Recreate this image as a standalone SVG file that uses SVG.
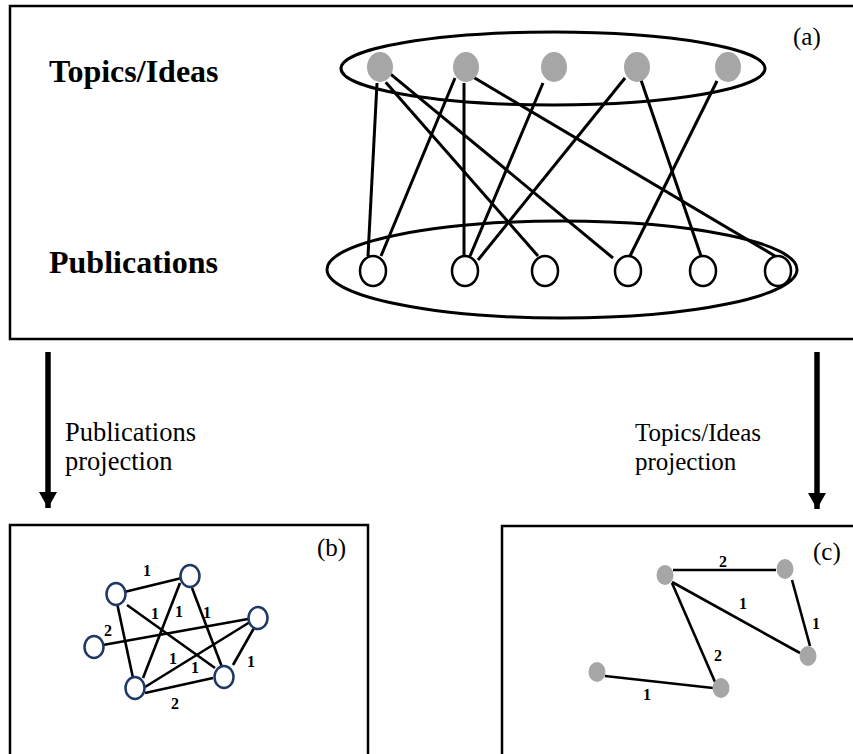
<svg xmlns="http://www.w3.org/2000/svg" width="853" height="754" viewBox="0 0 853 754">
<style>
.box{fill:none;stroke:#000;stroke-width:2.5}
.ell{fill:none;stroke:#000;stroke-width:3}
.e{stroke:#000;stroke-width:3;fill:none}
.eb{stroke:#000;stroke-width:2.6;fill:none}
.topic{fill:#a6a6a6;stroke:none}
.pub{fill:#fff;stroke:#000;stroke-width:2.5}
.pb{fill:#fff;stroke:#1f3864;stroke-width:2.5}
.big{font-family:"Liberation Serif","Times New Roman",serif;font-weight:bold;font-size:32px;fill:#000}
.lab{font-family:"Liberation Serif","Times New Roman",serif;font-size:25px;fill:#000}
.lab2{font-family:"Liberation Serif","Times New Roman",serif;font-size:26.5px;fill:#000}
.num{font-family:"Liberation Serif","Times New Roman",serif;font-weight:bold;font-size:16px;fill:#000;text-anchor:middle}
.arr{stroke:#000;stroke-width:5.5;fill:none}
</style>
<defs>
<marker id="ah" markerWidth="18" markerHeight="16" refX="9" refY="16" orient="0" markerUnits="userSpaceOnUse">
<path d="M0,0 L18,0 L9,16 Z" fill="#000"/>
</marker>
</defs>
<g id="panel-a">
<rect class="box" x="10" y="6" width="900" height="333"/>
<text class="big" x="49" y="82">Topics/Ideas</text>
<text class="big" x="49" y="273">Publications</text>
<text class="lab" x="793" y="45">(a)</text>
<ellipse class="ell" cx="553" cy="68.5" rx="212" ry="36.5"/>
<ellipse class="ell" cx="562" cy="269.5" rx="235" ry="48.5"/>
</g>
<g id="edges-a">
<line class="e" x1="377" y1="83" x2="368" y2="256"/>
<line class="e" x1="389.7" y1="73.3" x2="613" y2="258"/>
<line class="e" x1="385.7" y1="82.3" x2="538" y2="256"/>
<line class="e" x1="455" y1="78" x2="381" y2="256"/>
<line class="e" x1="464" y1="83" x2="464" y2="255"/>
<line class="e" x1="473" y1="77" x2="775" y2="256"/>
<line class="e" x1="543" y1="83" x2="470" y2="256"/>
<line class="e" x1="625" y1="78" x2="478" y2="260"/>
<line class="e" x1="641" y1="80" x2="701" y2="256"/>
<line class="e" x1="717" y1="81" x2="630" y2="256"/>
</g>
<g id="topic-1"><ellipse class="topic" cx="380" cy="67" rx="13" ry="15"/></g>
<g id="topic-2"><ellipse class="topic" cx="466" cy="67" rx="13" ry="15"/></g>
<g id="topic-3"><ellipse class="topic" cx="554" cy="67" rx="13" ry="15"/></g>
<g id="topic-4"><ellipse class="topic" cx="637" cy="67" rx="13" ry="15"/></g>
<g id="topic-5"><ellipse class="topic" cx="728" cy="67" rx="13" ry="15"/></g>
<g id="pub-1"><ellipse class="pub" cx="373" cy="271" rx="13" ry="15"/></g>
<g id="pub-2"><ellipse class="pub" cx="465" cy="271" rx="13" ry="15"/></g>
<g id="pub-3"><ellipse class="pub" cx="545" cy="271" rx="13" ry="15"/></g>
<g id="pub-4"><ellipse class="pub" cx="628" cy="271" rx="13" ry="15"/></g>
<g id="pub-5"><ellipse class="pub" cx="703" cy="271" rx="13" ry="15"/></g>
<g id="pub-6"><ellipse class="pub" cx="778" cy="271" rx="13" ry="15"/></g>

<g id="projection-arrows">
<line class="arr" x1="48" y1="352" x2="48" y2="508" marker-end="url(#ah)"/>
<line class="arr" x1="817" y1="352" x2="817" y2="509" marker-end="url(#ah)"/>
<text class="lab2" x="65" y="441">Publications</text>
<text class="lab2" x="65" y="470">projection</text>
<text class="lab" x="635" y="441">Topics/Ideas</text>
<text class="lab" x="635" y="470">projection</text>
</g>

<g id="panel-b">
<rect class="box" x="10" y="525" width="358" height="300"/>
<text class="lab" x="317" y="556">(b)</text>
</g>
<g id="edges-b">
<line class="eb" x1="116" y1="594" x2="190" y2="576"/>
<line class="eb" x1="117" y1="603" x2="133" y2="678"/>
<line class="eb" x1="127" y1="605" x2="215" y2="668"/>
<line class="eb" x1="180" y1="583" x2="143" y2="678"/>
<line class="eb" x1="192" y1="588" x2="222" y2="667"/>
<line class="eb" x1="103" y1="645" x2="248" y2="619"/>
<line class="eb" x1="145" y1="687" x2="250" y2="622"/>
<line class="eb" x1="145" y1="693" x2="213" y2="678"/>
<line class="eb" x1="233" y1="665" x2="254" y2="628"/>
<text class="num" x="147" y="576">1</text>
<text class="num" x="155" y="619">1</text>
<text class="num" x="179" y="617">1</text>
<text class="num" x="207" y="618">1</text>
<text class="num" x="108" y="636">2</text>
<text class="num" x="173" y="664">1</text>
<text class="num" x="195" y="673">1</text>
<text class="num" x="251" y="667">1</text>
<text class="num" x="175" y="709">2</text>
</g>
<g id="b-n1"><ellipse class="pb" cx="116" cy="594" rx="9.5" ry="11"/></g>
<g id="b-n2"><ellipse class="pb" cx="190" cy="576" rx="9.5" ry="11"/></g>
<g id="b-n3"><ellipse class="pb" cx="258" cy="618" rx="9.5" ry="11"/></g>
<g id="b-n4"><ellipse class="pb" cx="94" cy="647" rx="9.5" ry="11"/></g>
<g id="b-n5"><ellipse class="pb" cx="135" cy="688" rx="9.5" ry="11"/></g>
<g id="b-n6"><ellipse class="pb" cx="224" cy="677" rx="9.5" ry="11"/></g>

<g id="panel-c">
<rect class="box" x="502" y="526" width="400" height="300"/>
<text class="lab" x="813" y="560">(c)</text>
</g>
<g id="edges-c">
<line class="eb" x1="673" y1="570" x2="776" y2="570"/>
<line class="eb" x1="672" y1="582" x2="800" y2="653"/>
<line class="eb" x1="792" y1="580" x2="810" y2="646"/>
<line class="eb" x1="672" y1="583" x2="715" y2="682"/>
<line class="eb" x1="605" y1="676" x2="713" y2="688"/>
<text class="num" x="723" y="567">2</text>
<text class="num" x="743" y="609">1</text>
<text class="num" x="816" y="629">1</text>
<text class="num" x="718" y="661">2</text>
<text class="num" x="647" y="700">1</text>
</g>
<g id="c-n1"><ellipse class="topic" cx="665" cy="575" rx="8.5" ry="10"/></g>
<g id="c-n2"><ellipse class="topic" cx="785" cy="569" rx="8.5" ry="10"/></g>
<g id="c-n3"><ellipse class="topic" cx="808" cy="656" rx="8.5" ry="10"/></g>
<g id="c-n4"><ellipse class="topic" cx="721" cy="688" rx="8.5" ry="10"/></g>
<g id="c-n5"><ellipse class="topic" cx="597" cy="672" rx="8.5" ry="10"/></g>
</svg>
